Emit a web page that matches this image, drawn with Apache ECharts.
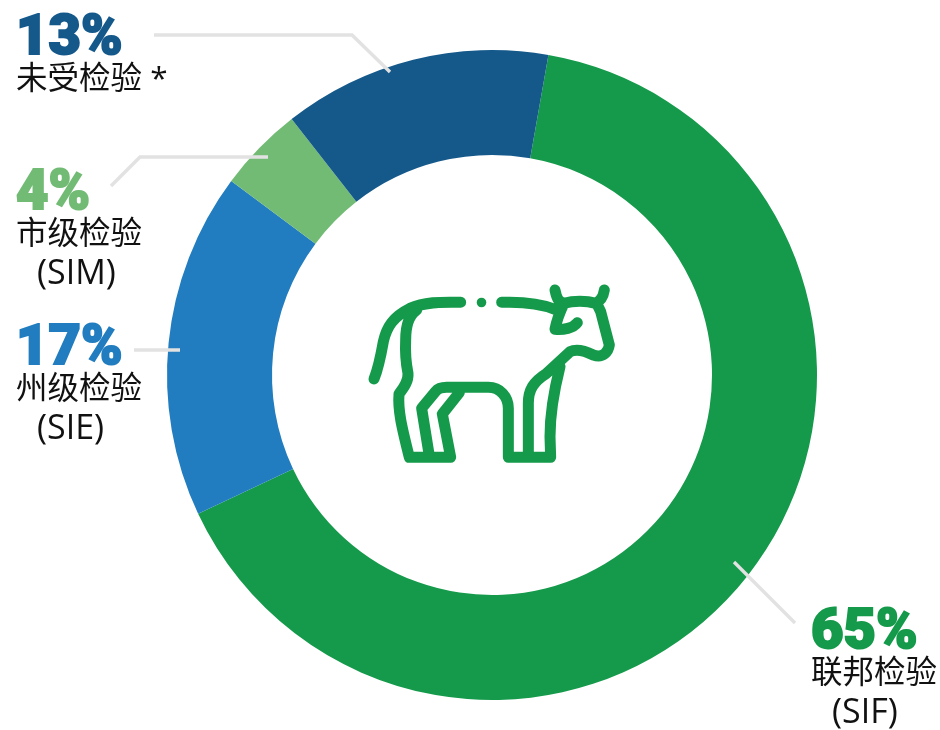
<!DOCTYPE html>
<html>
<head>
<meta charset="utf-8">
<style>
  html, body { margin: 0; padding: 0; background: #fff; }
  #chart { width: 940px; height: 730px; }
</style>
<script src="https://cdn.jsdelivr.net/npm/echarts@6/dist/echarts.min.js"></script>
</head>
<body>
<div id="chart"></div>
<script>
// slices, clockwise from the top right
const names = ['联邦检验', '州级检验', '市级检验', '未受检验 *'];
const codes = ['(SIF)', '(SIE)', '(SIM)', ''];
// printed labels are rounded and add up to 99, so the slice sizes are read from the ring itself
const printed = ['65%', '17%', '4%', '13%'];
const values = [65.2, 17.2, 4.25, 13.35];
const colors = ['#149a4a', '#217dbf', '#72bb75', '#15598b'];

// top-left corner of each label block
const labelSpots = [[811, 613], [16, 329], [16, 174], [16, 19]];

const leaderLines = [
  [[734, 562], [795, 623]],
  [[134, 350], [180, 350]],
  [[111, 186], [140, 157], [268, 157]],
  [[154, 35], [352, 35], [390, 72]]
];

// cow icon, drawn in a 3x box
const cowPath =
  'M302 97C240 95 190 97 150 115C100 140 80 170 70 215C62 260 55 295 42 327' +
  'M170 120C148 135 137 165 137 210C135 250 138 280 144 310C146 335 130 355 117 372' +
  'C113 420 125 470 148 562L272 562L247 432L298 368' +
  'M208 558L185 415L226 365C235 354 248 352 260 352L385 352C420 352 445 380 445 415L445 562L572 562' +
  'L570 500C570 430 580 370 600 290' +
  'M505 558L505 400C505 360 520 335 560 310L630 245C650 235 680 245 700 255C730 265 745 245 748 225L722 125L710 100' +
  'M425 97C480 95 540 100 585 118' +
  'M585 60C590 85 595 95 612 100C640 92 680 92 705 100C720 95 730 80 733 60' +
  'M612 100C600 125 590 150 585 178C610 180 640 175 652 158';

echarts.graphic.registerShape('cowIcon', echarts.graphic.extendPath(cowPath, {}));

const chart = echarts.init(document.getElementById('chart'));

chart.setOption({
  animation: false,
  backgroundColor: '#fff',
  series: [{
    type: 'pie',
    center: [492, 375],
    radius: [220, 325],
    startAngle: 80,
    avoidLabelOverlap: false,
    silent: true,
    data: values.map((v, i) => ({
      name: names[i],
      value: v,
      itemStyle: { color: colors[i] },
      label: {
        formatter: '{pct|' + printed[i] + '}\n{name|' + names[i] + '}' + (codes[i] ? '\n{code|' + codes[i] + '}' : ''),
        rich: {
          pct: { fontFamily: 'Roboto', fontWeight: 900, fontSize: 56, lineHeight: 42, color: colors[i], textBorderColor: colors[i], textBorderWidth: 2 },
          name: { fontFamily: 'Open Sans, Noto Sans CJK SC', fontSize: 31.5, lineHeight: 38, color: '#111' },
          code: { fontFamily: 'Open Sans', fontSize: 34, lineHeight: 40, color: '#111', padding: [0, 0, 0, 21] }
        }
      }
    })),
    label: { show: true, position: 'outside' },
    labelLine: { show: false },
    labelLayout: function (params) {
      const spot = labelSpots[params.dataIndex];
      return { x: spot[0], y: spot[1], align: 'left', verticalAlign: 'top' };
    }
  }],
  graphic: leaderLines.map(pts => ({
    type: 'polyline',
    z: 20,
    shape: { points: pts },
    style: { fill: null, stroke: '#e2e2e2', lineWidth: 3.4 }
  })).concat([
    {
      type: 'cowIcon',
      z: 20,
      x: 360,
      y: 270,
      scaleX: 1 / 3,
      scaleY: 1 / 3,
      style: { fill: null, stroke: colors[0], lineWidth: 33, lineCap: 'round', lineJoin: 'round' }
    },
    {
      type: 'circle',
      z: 20,
      shape: { cx: 481.5, cy: 302.5, r: 4.8 },
      style: { fill: colors[0] }
    }
  ])
});
</script>
</body>
</html>
